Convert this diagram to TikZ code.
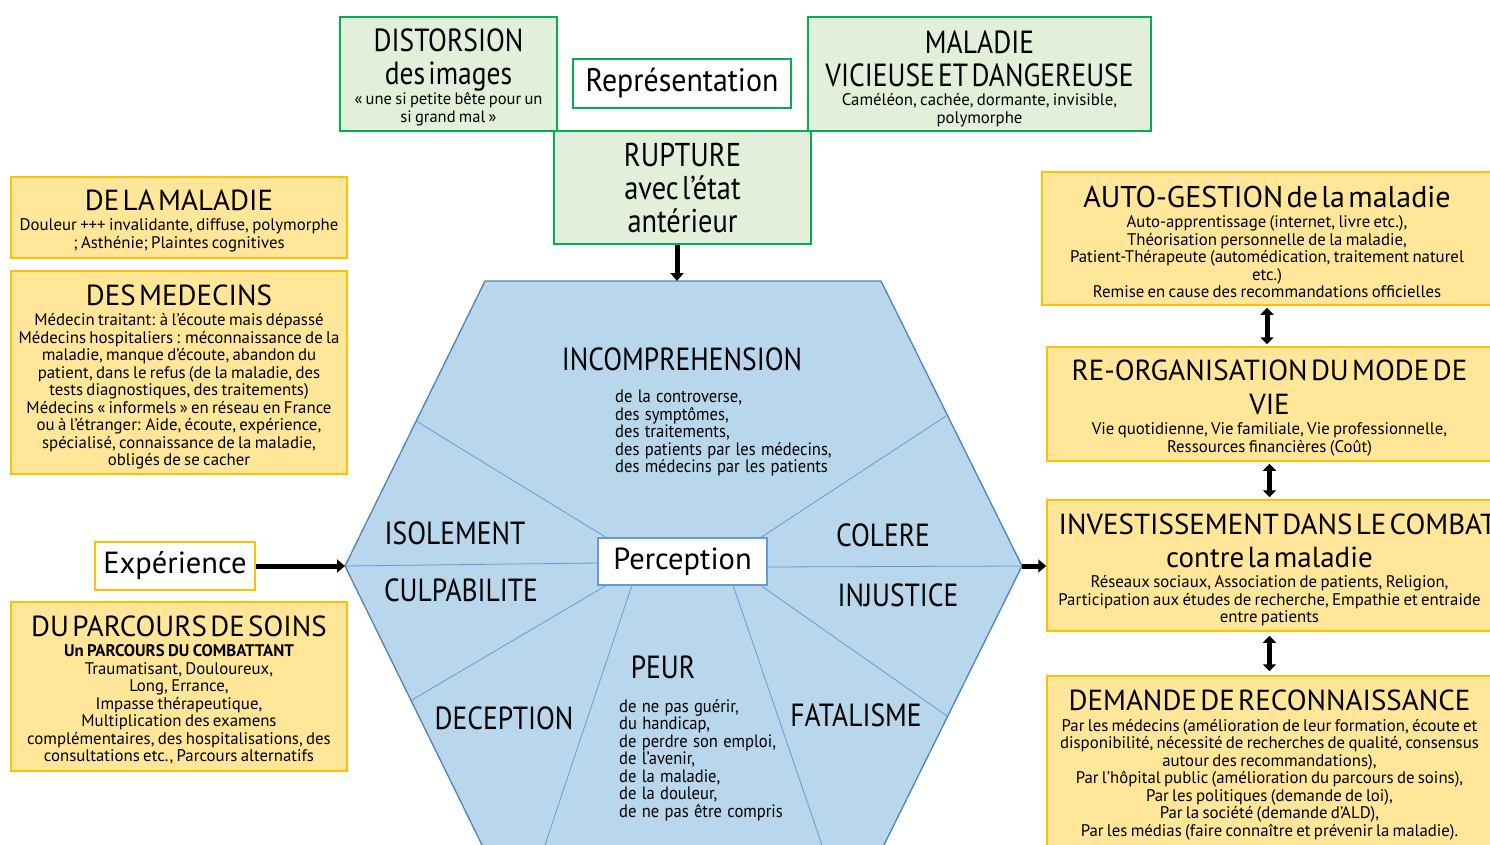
\documentclass[tikz,border=0pt]{standalone}
\usepackage{fontspec}
\setmainfont[WordSpace=1.25]{PT Sans}
\newfontfamily\cond[FakeStretch=0.86,WordSpace=1.9]{PT Sans}
\newfontfamily\condb[FakeStretch=0.92,WordSpace=1.2]{PT Sans}
\usetikzlibrary{arrows.meta}
\definecolor{yfill}{RGB}{255,230,153}
\definecolor{yline}{RGB}{255,192,0}
\definecolor{gfill}{RGB}{226,239,218}
\definecolor{gline}{RGB}{0,176,80}
\definecolor{hfill}{RGB}{184,214,236}
\definecolor{hline}{RGB}{80,130,185}
\definecolor{iline}{RGB}{100,155,210}
\newcommand{\fs}[2]{\fontsize{#1}{#2}\selectfont}
\newcommand{\ttl}{\fs{29}{33}}
\newcommand{\bdy}{\par\vspace{3pt}\fs{16.8}{17.5}}
\tikzset{
  ybox/.style={draw=yline, fill=yfill, line width=1.5pt, inner sep=0pt},
  gbox/.style={draw=gline, fill=gfill, line width=1.2pt, inner sep=0pt},
  btxt/.style={inner sep=0pt, align=center},
  wbox/.style={fill=white, line width=2.2pt, inner sep=0pt, align=center},
  hlab/.style={inner sep=0pt, font=\cond\fs{32}{34}},
  hlist/.style={inner sep=0pt, anchor=north west, align=left, font=\condb\fs{18}{17.5}},
  bigarrow/.style={line width=5pt, -{Triangle[length=8pt,width=13pt]}},
  dblarrow/.style={line width=5pt, {Triangle[length=7pt,width=13pt]}-{Triangle[length=7pt,width=13pt]}},
  inner line/.style={draw=iline, line width=0.8pt}
}
\begin{document}
\begin{tikzpicture}[x=1pt,y=-1pt]
\useasboundingbox (0,0) rectangle (1490,845);

% hexagon
\coordinate (hT1) at (485,281);
\coordinate (hT2) at (881,281);
\coordinate (hR) at (1022,566);
\coordinate (hB2) at (881,851);
\coordinate (hB1) at (485,851);
\coordinate (hL) at (345,566);
\coordinate (hTop) at (677,281);
\fill[hfill] (hT1) -- (hT2) -- (hR) -- (hB2) -- (hB1) -- (hL) -- cycle;

% inner lines
\draw[inner line] (416,421) -- (607,538);
\draw[inner line] (946,416) -- (760,538);
\draw[inner line] (hL) -- (598,563);
\draw[inner line] (767,567) -- (hR);
\draw[inner line] (607,585) -- (412,700);
\draw[inner line] (632,585) -- (543,851);
\draw[inner line] (733,585) -- (824,851);
\draw[inner line] (760,585) -- (947,716);

\draw[hline, line width=1.3pt] (hT1) -- (hT2) -- (hR) -- (hB2) -- (hB1) -- (hL) -- cycle;

\node[wbox, draw=iline, minimum width=169pt, minimum height=47pt, font=\fs{30.5}{32}] (perc) at (682.5,561.5) {Perception};

% hexagon labels
\node[hlab] (incomp) at (682,359) {INCOMPREHENSION};
\node[hlist] (incl) at (615,390) {de la controverse,\\des symptômes,\\des traitements,\\des patients par les médecins,\\des médecins par les patients};
\node[hlab] (isol) at (455,533) {ISOLEMENT};
\node[hlab] (colere) at (883,535) {COLERE};
\node[hlab] (culp) at (461,590) {CULPABILITE};
\node[hlab] (injust) at (898,595) {INJUSTICE};
\node[hlab] (peur) at (663,667) {PEUR};
\node[hlist] (peurl) at (619,699) {de ne pas guérir,\\du handicap,\\de perdre son emploi,\\de l’avenir,\\de la maladie,\\de la douleur,\\de ne pas être compris};
\node[hlab] (decep) at (504,718) {DECEPTION};
\node[hlab] (fatal) at (856,715) {FATALISME};

% top green boxes
\node[gbox, minimum width=217pt, minimum height=114pt] (dist) at (448.5,74) {};
\node[btxt, text width=215pt] (distt) at ([yshift=-3.5pt]dist.center) {\cond\fs{32}{33}DISTORSION\\des images\par\rmfamily\fs{16.5}{17.5}« une si petite bête pour un\\si grand mal »\par};
\node[gbox, minimum width=343pt, minimum height=114pt] (mal) at (979.5,74) {};
\node[btxt, text width=340pt] (malt) at ([yshift=-4.5pt]mal.center) {\cond\fs{32}{33}MALADIE\\VICIEUSE ET DANGEREUSE\par\vspace{2pt}\rmfamily\fs{16.8}{17.5}Caméléon, cachée, dormante, invisible,\\polymorphe\par};
\node[wbox, draw=gline, minimum width=218pt, minimum height=49pt, font=\condb\fs{32.5}{34}] (repr) at (682,83.5) {Représentation};
\node[gbox, minimum width=257pt, minimum height=113pt] (rupt) at (682.5,187.5) {};
\node[btxt, text width=255pt] (ruptt) at ([yshift=-1pt]rupt.center) {\cond\fs{33}{33}RUPTURE\\avec l’état\\antérieur\par};

% left yellow boxes
\node[ybox, minimum width=336pt, minimum height=81pt] (dlm) at (179,217.5) {};
\node[btxt, text width=334pt] (dlmt) at ([yshift=-3pt]dlm.center) {\ttl DE LA MALADIE\bdy Douleur +++ invalidante, diffuse, polymorphe\\; Asthénie; Plaintes cognitives\par};
\node[ybox, minimum width=336pt, minimum height=203pt] (dmed) at (179,372.5) {};
\node[btxt, text width=334pt] (dmedt) at ([yshift=-4.5pt]dmed.center) {\ttl DES MEDECINS\bdy Médecin traitant: à l’écoute mais dépassé\\Médecins hospitaliers : méconnaissance de la\\maladie, manque d’écoute, abandon du\\patient, dans le refus (de la maladie, des\\tests diagnostiques, des traitements)\\Médecins « informels » en réseau en France\\ou à l’étranger: Aide, écoute, expérience,\\spécialisé, connaissance de la maladie,\\obligés de se cacher\par};
\node[wbox, draw=yline, minimum width=160pt, minimum height=48pt, font=\fs{30.5}{32}] (exp) at (175,566) {Expérience};
\node[ybox, minimum width=336pt, minimum height=169pt] (dps) at (179,686.5) {};
\node[btxt, text width=334pt] (dpst) at ([yshift=-3.5pt]dps.center) {\ttl DU PARCOURS DE SOINS\bdy\textbf{Un PARCOURS DU COMBATTANT}\\Traumatisant, Douloureux,\\Long, Errance,\\Impasse thérapeutique,\\Multiplication des examens\\complémentaires, des hospitalisations, des\\consultations etc., Parcours alternatifs\par};

% right yellow boxes
\node[ybox, minimum width=450pt, minimum height=133pt] (auto) at (1267,238.5) {};
\node[btxt, text width=445pt] (autot) at ([yshift=-3.5pt]auto.center) {\fs{30}{33}AUTO-GESTION de la maladie\bdy Auto-apprentissage (internet, livre etc.),\\Théorisation personnelle de la maladie,\\Patient-Thérapeute (automédication, traitement naturel\\etc.)\\Remise en cause des recommandations officielles\par};
\node[ybox, minimum width=445pt, minimum height=114pt] (reorg) at (1269.5,404) {};
\node[btxt, text width=445pt] (reorgt) at ([yshift=-4pt]reorg.center) {\fs{29}{34}RE-ORGANISATION DU MODE DE\\VIE\bdy Vie quotidienne, Vie familiale, Vie professionnelle,\\Ressources financières (Coût)\par};
\node[ybox, minimum width=445pt, minimum height=131pt] (inv) at (1269.5,565.5) {};
\node[btxt, text width=445pt] (invt) at ([yshift=-4.5pt]inv.center) {\ttl\makebox[\linewidth][c]{\hspace{16pt}INVESTISSEMENT DANS LE COMBAT}\\contre la maladie\bdy Réseaux sociaux, Association de patients, Religion,\\\makebox[\linewidth][c]{Participation aux études de recherche, Empathie et entraide}\\entre patients\par};
\node[ybox, minimum width=445pt, minimum height=172pt] (dem) at (1269.5,762) {};
\node[btxt, text width=445pt] (demt) at ([yshift=-3pt]dem.center) {\ttl DEMANDE DE RECONNAISSANCE\bdy Par les médecins (amélioration de leur formation, écoute et\\disponibilité, nécessité de recherches de qualité, consensus\\autour des recommandations),\\Par l’hôpital public (amélioration du parcours de soins),\\Par les politiques (demande de loi),\\Par la société (demande d’ALD),\\Par les médias (faire connaître et prévenir la maladie).\par};

% arrows
\draw[bigarrow] (exp.east) -- (hL);
\draw[bigarrow] (rupt.south -| hTop) -- (hTop);
\draw[bigarrow] (hR) -- (hR -| inv.west);
\draw[dblarrow, shorten <=2pt, shorten >=2pt] (auto.south) -- (auto.south |- reorg.north);
\draw[dblarrow, shorten <=2pt, shorten >=2pt] (reorg.south) -- (reorg.south |- inv.north);
\draw[dblarrow, shorten <=4pt, shorten >=4pt] (inv.south) -- (inv.south |- dem.north);
\end{tikzpicture}
\end{document}
